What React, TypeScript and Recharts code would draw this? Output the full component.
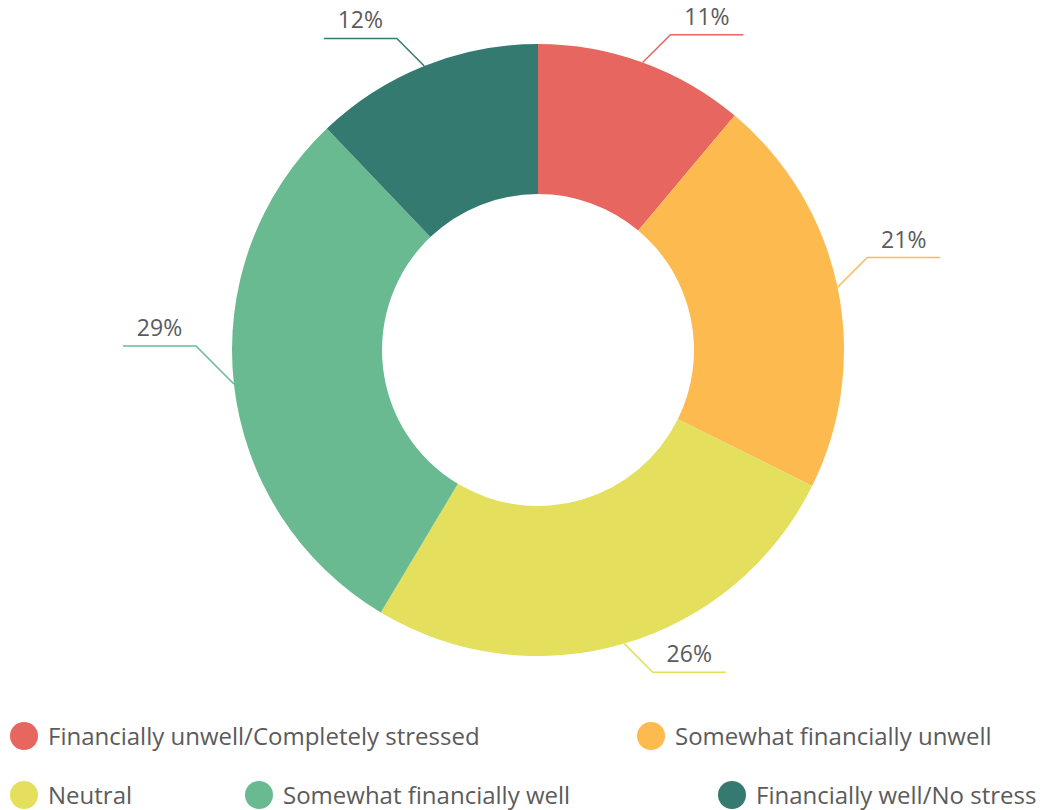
import React from "react";
import { PieChart, Pie, Cell, Legend } from "recharts";

const categories = [
  "Financially unwell/Completely stressed",
  "Somewhat financially unwell",
  "Neutral",
  "Somewhat financially well",
  "Financially well/No stress",
];
const values = [11, 21, 26, 29, 12];
const colors = ["#e76660", "#fdba4e", "#e4df5c", "#69ba91", "#347a70"];

// legend layout (row index, left edge of the marker in px)
const legendRows = [0, 0, 1, 1, 1];
const legendLefts = [10, 637, 10, 245, 718];

const data = categories.map((name, i) => ({ name, value: values[i] }));

const TEXT = "#5b5b5b";
const FONT = "'Open Sans', 'Noto Sans', sans-serif";
const RAD = Math.PI / 180;

const renderLabel = (props: any) => {
  const { cx, cy, midAngle, outerRadius, index, value } = props;
  const R = outerRadius;
  const px = R * Math.cos(-midAngle * RAD);
  const py = R * Math.sin(-midAngle * RAD);
  const sx = px >= 0 ? 1 : -1;
  const sy = py > 0.5 * R ? 1 : -1;
  const L = 36;
  const pu = px * sx + py * sy;
  const d = (-pu + Math.sqrt(pu * pu - 2 * (R * R - (R + L) * (R + L)))) / 2;
  const x0 = cx + px;
  const y0 = cy + py;
  const x1 = x0 + d * sx;
  const y1 = y0 + d * sy;
  const x2 = x1 + 73 * sx;
  const color = colors[index];
  return (
    <g key={`lab-${index}`}>
      <polyline
        points={`${x0},${y0} ${x1},${y1} ${x2},${y1}`}
        fill="none"
        stroke={color}
        strokeWidth={1.5}
      />
      <text
        x={(x1 + x2) / 2}
        y={y1 - 10}
        textAnchor="middle"
        fill={TEXT}
        fontSize={23}
        fontFamily={FONT}
      >
        {`${value}%`}
      </text>
    </g>
  );
};

const renderLegend = () => (
  <div style={{ position: "relative", width: 1042, height: 110, fontFamily: FONT }}>
    {categories.map((name, i) => (
      <div
        key={name}
        style={{
          position: "absolute",
          left: legendLefts[i],
          top: legendRows[i] * 59,
          height: 30,
          display: "flex",
          alignItems: "center",
          whiteSpace: "nowrap",
        }}
      >
        <span
          style={{
            display: "inline-block",
            width: 28,
            height: 28,
            borderRadius: "50%",
            background: colors[i],
            marginRight: 10,
          }}
        />
        <span style={{ fontSize: 24, color: TEXT, lineHeight: "30px" }}>{name}</span>
      </div>
    ))}
  </div>
);

export default function App() {
  return (
    <div style={{ position: "absolute", left: 0, top: 0, width: 1042, height: 810, background: "#fff" }}>
      <PieChart width={1042} height={810} margin={{ top: 0, right: 0, bottom: 0, left: 0 }}>
        <Pie
          data={data}
          dataKey="value"
          nameKey="name"
          cx={538}
          cy={350}
          innerRadius={156}
          outerRadius={306}
          startAngle={90}
          endAngle={-270}
          stroke="none"
          label={renderLabel}
          labelLine={false}
          isAnimationActive={false}
        >
          {data.map((_, i) => (
            <Cell key={i} fill={colors[i]} />
          ))}
        </Pie>
        <Legend
          content={renderLegend}
          wrapperStyle={{ position: "absolute", left: 0, top: 721, width: 1042 }}
        />
      </PieChart>
    </div>
  );
}
